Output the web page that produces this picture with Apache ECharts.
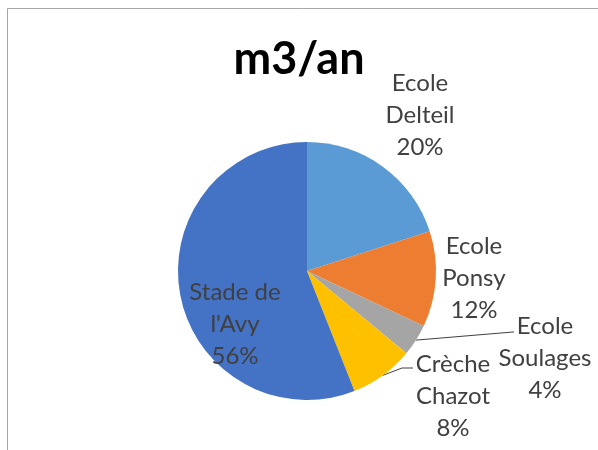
<!DOCTYPE html>
<html><head><meta charset="utf-8">
<script src="https://cdn.jsdelivr.net/npm/echarts@6/dist/echarts.min.js"></script>
<style>html,body{margin:0;padding:0;background:#fff}#c{width:598px;height:450px}</style>
</head><body><div id="c"></div>
<script>
const categories = ["Ecole\nDelteil", "Ecole\nPonsy", "Ecole\nSoulages", "Crèche\nChazot", "Stade de\nl'Avy"];
const values = [20, 12, 4, 8, 56];
const colors = ["#5B9BD5", "#ED7D31", "#A5A5A5", "#FFC000", "#4472C4"];
const titleText = "m3/an";

// label layout (text centers, leader-line bends)
const labelPos = [[420, 115], [474, 278], [545, 358], [453, 396], [235, 324]];
const leaderBends = [null, null, [[513, 332], [514, 332]], [[402, 368], [413, 368]], null];

const chart = echarts.init(document.getElementById('c'), null, {renderer: 'canvas'});
chart.setOption({
  animation: false,
  backgroundColor: '#fff',
  title: {
    text: titleText, left: 'center', top: 32,
    textStyle: {fontFamily: 'Lato', fontWeight: 'bold', fontSize: 45, color: '#000'}
  },
  graphic: [{
    type: 'rect', shape: {x: 7.5, y: 8.5, width: 640, height: 500},
    style: {fill: 'none', stroke: '#a6a6a6', lineWidth: 1}, silent: true, z: -1
  }],
  series: [{
    type: 'pie',
    center: [307, 271],
    radius: 129,
    startAngle: 90,
    clockwise: true,
    data: categories.map((n, i) => ({name: n, value: values[i], itemStyle: {color: colors[i]}})),
    itemStyle: {borderWidth: 0},
    label: {
      show: true,
      formatter: p => p.name + '\n' + Math.round(p.percent) + '%',
      fontFamily: 'Lato', fontSize: 24, lineHeight: 32, color: '#404040', align: 'center'
    },
    labelLine: {show: true, lineStyle: {color: '#404040', width: 1}, length: 10, length2: 10},
    labelLayout: function (params) {
      const i = params.dataIndex;
      const out = {x: labelPos[i][0], y: labelPos[i][1], align: 'center', verticalAlign: 'middle'};
      if (leaderBends[i] && params.labelLinePoints) {
        out.labelLinePoints = [params.labelLinePoints[0], leaderBends[i][0], leaderBends[i][1]];
      } else {
        out.labelLinePoints = [[0, 0], [0, 0], [0, 0]];
      }
      return out;
    }
  }]
});
</script></body></html>
